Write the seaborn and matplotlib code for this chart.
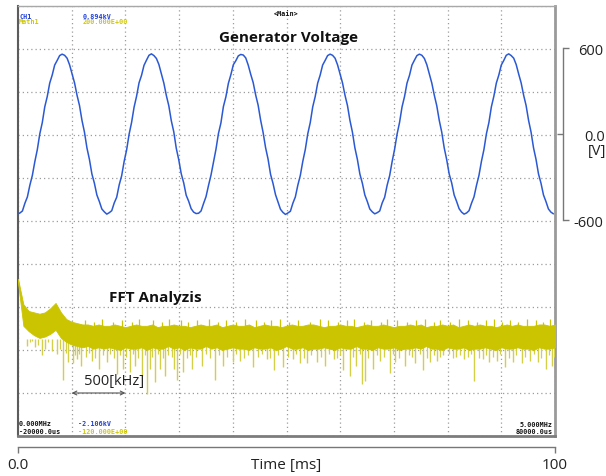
import numpy as np
import pandas as pd
import matplotlib
matplotlib.use("Agg")
import matplotlib.pyplot as plt
import seaborn as sns

# ---------------- data ----------------
# Generator voltage [V], 36 samples per 60 Hz period, starting at a trough
volt_period_1 = [-556, -550, -536, -482, -438, -356, -288, -192, -108, 2, 80, 190, 262, 356, 412, 482, 514, 548,
                 558, 550, 530, 484, 420, 358, 272, 200, 96, 14, -96, -176, -278, -342, -424, -470, -522, -542]
volt_period_2 = [-558, -548, -534, -480, -440, -354, -290, -190, -110, 0, 82, 188, 264, 358, 410, 480, 516, 550,
                 560, 548, 528, 486, 422, 356, 270, 198, 94, 16, -98, -178, -276, -340, -426, -468, -520, -544]
volt_period_3 = [-554, -552, -536, -484, -436, -358, -286, -194, -106, 4, 78, 192, 260, 354, 414, 484, 512, 546,
                 556, 552, 532, 482, 418, 360, 274, 202, 98, 12, -94, -174, -280, -344, -422, -472, -524, -546]
volt_period_4 = [-560, -550, -538, -482, -438, -356, -288, -190, -108, 2, 80, 190, 262, 356, 412, 482, 514, 548,
                 558, 550, 530, 484, 420, 358, 272, 200, 96, 14, -96, -176, -278, -342, -424, -470, -522, -542]
volt_period_5 = [-556, -548, -536, -480, -440, -356, -290, -192, -106, 0, 82, 190, 262, 356, 410, 482, 516, 548,
                 558, 550, 528, 484, 420, 356, 272, 198, 96, 14, -96, -178, -278, -340, -424, -470, -520, -544]
volt_period_6 = [-558, -550, -534, -482, -438, -358, -288, -190, -108, 2, 80, 190, 264, 356, 412, 482, 514, 550,
                 560, 548, 530, 486, 420, 358, 272, 200, 96, 14, -96, -176, -278, -342, -424, -470, -522, -544]
volt_end = [-556]
time_first_ms, time_last_ms = -0.1, 99.7

# FFT magnitude (Math1), 0 .. 5 MHz every 0.05 MHz: upper and lower edge of the dense band [dB]
fft_top_db = [-3, -22, -27, -28, -29, -28, -25, -21, -28, -33, -35, -36, -37, -37, -38, -37, -38, -38, -37, -38,
              -39, -38, -37, -38, -38, -37, -39, -38, -38, -37, -38, -38, -39, -38, -37, -38, -38, -37, -39, -38,
              -37, -38, -38, -37, -39, -38, -37, -38, -38, -39, -38, -37, -38, -38, -37, -37, -38, -39, -38, -38,
              -37, -38, -38, -39, -38, -37, -38, -38, -37, -38, -39, -38, -38, -37, -38, -37, -39, -38, -38, -37,
              -38, -37, -39, -38, -37, -38, -37, -38, -38, -39, -38, -37, -38, -37, -38, -38, -38, -37, -37, -38,
              -37]
fft_bottom_db = [-6, -38, -42, -45, -47, -46, -44, -41, -47, -50, -52, -53, -54, -53, -55, -54, -55, -54, -55, -56,
                 -54, -55, -55, -54, -56, -54, -55, -55, -53, -55, -54, -56, -54, -55, -55, -53, -55, -54, -56, -55,
                 -54, -55, -55, -56, -54, -55, -55, -54, -56, -55, -53, -55, -55, -54, -56, -55, -55, -54, -55, -56,
                 -54, -55, -55, -53, -55, -55, -56, -54, -55, -55, -54, -56, -55, -55, -54, -55, -53, -55, -55, -56,
                 -54, -55, -55, -54, -56, -55, -55, -54, -55, -56, -54, -55, -55, -54, -55, -55, -56, -54, -55, -55,
                 -54]
fft_first_mhz, fft_last_mhz = 0.0, 5.0

# long downward spikes of the FFT trace: frequency [MHz] and lowest value [dB]
spike_mhz = [0.08, 0.13, 0.16, 0.22, 0.25, 0.32, 0.36, 0.42, 0.47, 0.51, 0.55, 0.59, 0.69, 0.75, 0.83, 0.92, 0.98,
             1.04, 1.09, 1.15, 1.20, 1.23, 1.28, 1.32, 1.37, 1.45, 1.48, 1.54, 1.62, 1.71, 1.83, 1.91, 2.00, 2.07,
             2.19, 2.32, 2.38, 2.47, 2.56, 2.63, 2.69, 2.78, 2.86, 2.94, 3.03, 3.09, 3.15, 3.20, 3.23, 3.31, 3.37,
             3.46, 3.51, 3.60, 3.70, 3.77, 3.84, 3.90, 3.96, 4.08, 4.15, 4.25, 4.33, 4.39, 4.46, 4.53, 4.61, 4.69,
             4.77, 4.84, 4.92, 4.97]
spike_db = [-53, -49, -54, -60, -55, -57, -59, -78, -65, -66, -63, -68, -64, -70, -65, -74, -70,
            -72, -68, -75, -89, -70, -80, -70, -75, -70, -78, -72, -70, -68, -78, -68, -65, -64,
            -69, -63, -71, -69, -63, -66, -66, -65, -68, -63, -71, -75, -68, -81, -79, -70, -64,
            -73, -65, -68, -66, -71, -65, -64, -60, -61, -63, -79, -63, -65, -64, -69, -65, -66,
            -64, -65, -70, -68]

# short downward spikes (lower fringe of the band)
fringe_mhz = [0.11, 0.19, 0.28, 0.39, 0.45, 0.53, 0.57, 0.63, 0.66, 0.72, 0.79, 0.86, 0.89, 0.95, 1.01, 1.07,
              1.12, 1.18, 1.25, 1.30, 1.35, 1.40, 1.43, 1.51, 1.57, 1.60, 1.66, 1.75, 1.79, 1.87, 1.95, 2.03,
              2.10, 2.14, 2.23, 2.27, 2.35, 2.42, 2.51, 2.59, 2.66, 2.73, 2.82, 2.90, 2.97, 3.00, 3.12, 3.18,
              3.26, 3.34, 3.41, 3.49, 3.55, 3.64, 3.67, 3.74, 3.81, 3.87, 3.93, 4.01, 4.05, 4.12, 4.19, 4.22,
              4.29, 4.36, 4.42, 4.49, 4.57, 4.64, 4.72, 4.80, 4.87, 4.94, 4.99]
fringe_db = [-50, -52, -50, -55, -58, -60, -59, -61, -58, -62, -60, -59, -62, -60, -61, -59,
             -62, -60, -61, -59, -62, -60, -61, -59, -62, -60, -61, -59, -62, -60, -61, -59,
             -62, -60, -61, -59, -62, -60, -61, -59, -62, -60, -61, -59, -62, -60, -61, -59,
             -62, -60, -61, -59, -62, -60, -61, -59, -62, -60, -61, -59, -62, -60, -61, -59,
             -62, -60, -61, -59, -62, -60, -61, -59, -62, -60, -61]

# upward spikes (upper fringe of the band)
peak_mhz = [0.62, 0.71, 0.78, 0.88, 0.97, 1.06, 1.13, 1.26, 1.34, 1.41, 1.52, 1.58, 1.67, 1.78, 1.86, 1.94,
            2.03, 2.11, 2.22, 2.29, 2.36, 2.44, 2.52, 2.61, 2.72, 2.81, 2.89, 2.98, 3.06, 3.13, 3.22, 3.29,
            3.38, 3.44, 3.53, 3.62, 3.71, 3.79, 3.87, 3.93, 4.02, 4.11, 4.19, 4.27, 4.36, 4.43, 4.51, 4.58,
            4.66, 4.74, 4.82, 4.89, 4.95]
peak_db = [-34, -35, -33, -35, -34, -35, -33, -34, -35, -33, -34, -35, -34, -33, -35, -34,
           -35, -33, -34, -35, -34, -33, -35, -34, -35, -33, -34, -35, -34, -33, -35, -34,
           -35, -33, -34, -35, -34, -33, -35, -34, -35, -33, -34, -35, -34, -33, -35, -34,
           -35, -33, -34, -35, -33]

time_tick_values = [0, 100]
time_tick_labels = ["0.0", "100"]
volt_tick_values = [-600, 600]
volt_tick_labels = ["-600", "600"]
volt_mid_value = [0]
volt_mid_label = ["0.0"]

# ---------------- figure ----------------
sns.set_theme(style="white")
plt.rcParams["font.family"] = ["Open Sans", "DejaVu Sans"]

W, H = 606, 477
fig = plt.figure(figsize=(W / 100, H / 100), dpi=100)
fig.patch.set_facecolor("white")


def px_rect(x0, y0, x1, y1):
    return [x0 / W, 1 - y1 / H, (x1 - x0) / W, (y1 - y0) / H]


frame = px_rect(18, 7, 555, 437)

# main scope screen (voltage channel): 300 V/div, 10 ms/div
ax = fig.add_axes(frame)
ax.set_facecolor("white")
volts = volt_period_1 + volt_period_2 + volt_period_3 + volt_period_4 + volt_period_5 + volt_period_6 + volt_end
df = pd.DataFrame({"t": np.linspace(time_first_ms, time_last_ms, len(volts)), "v": volts})
sns.lineplot(data=df, x="t", y="v", ax=ax, color="#2b59d4", linewidth=1.1, estimator=None, sort=False, zorder=3)
ax.set_xlim(0, 100)
ax.set_ylim(-2106, 894)
ax.set_xticks(np.arange(0, 101, 10))
ax.set_yticks(np.arange(-2106, 895, 300))
ax.tick_params(length=0, labelbottom=False, labelleft=False)
ax.set_xlabel("")
ax.set_ylabel("")
ax.grid(True, color="#9c9c9c", linestyle=(0, (1, 2.4)), linewidth=0.9)
ax.spines["left"].set(color="#5c5c5c", linewidth=1.5)
ax.spines["bottom"].set(color="#7c7c7c", linewidth=2)
ax.spines["right"].set(color="#9a9a9a", linewidth=2)
ax.spines["top"].set(color="#a8a8a8", linewidth=1)

# FFT channel overlaid on the same screen: 0..5 MHz, -120..200 dB
ax2 = fig.add_axes(frame)
ax2.patch.set_visible(False)
ax2.set_xlim(0, 5)
ax2.set_ylim(-120, 200)
ax2.axis("off")
fft_freq = np.linspace(fft_first_mhz, fft_last_mhz, len(fft_top_db))
spike_col = "#d2cf48"
band_col = "#cac500"
ax2.vlines(spike_mhz, spike_db, -48, color=spike_col, linewidth=1.0, zorder=2)
ax2.vlines(fringe_mhz, fringe_db, -48, color=spike_col, linewidth=0.9, zorder=2)
ax2.vlines(peak_mhz, -40, peak_db, color=band_col, linewidth=0.9, zorder=2)
ax2.fill_between(fft_freq, fft_bottom_db, fft_top_db, color=band_col, linewidth=0.6,
                 edgecolor=band_col, zorder=3)
ax2.annotate("", xy=(0.5, -88), xytext=(1.0, -88),
             arrowprops=dict(arrowstyle="<->", color="#555555", lw=0.8, shrinkA=0, shrinkB=0,
                             mutation_scale=7))
ax2.text(0.894, -78.5, "500[kHz]", ha="center", va="center", fontsize=10.5, color="#222222")

# annotations on the screen
ax.text(0.503, 0.928, "Generator Voltage", transform=ax.transAxes, ha="center", va="center",
        fontsize=11, fontweight="bold", color="#111111")
ax.text(0.255, 0.323, "FFT Analyzis", transform=ax.transAxes, ha="center", va="center",
        fontsize=11, fontweight="bold", color="#111111")

mono = dict(family="DejaVu Sans Mono", fontweight="bold", fontsize=4.9, transform=ax.transAxes, va="center")
blue, yellow, black = "#2040d8", "#cfc700", "#111111"
ax.text(0.002, 0.9767, "CH1", color=blue, ha="left", **mono)
ax.text(0.002, 0.9651, "Math1", color=yellow, ha="left", **mono)
ax.text(0.1205, 0.9767, "0.894kV", color=blue, ha="left", **mono)
ax.text(0.1205, 0.9651, "200.000E+00", color=yellow, ha="left", **mono)
ax.text(0.499, 0.9826, "<Main>", color=black, ha="center", **mono)
ax.text(0.001, 0.0302, "0.000MHz", color=black, ha="left", **mono)
ax.text(0.001, 0.0105, "-20000.0us", color=black, ha="left", **mono)
ax.text(0.1117, 0.0302, "-2.106kV", color=blue, ha="left", **mono)
ax.text(0.1117, 0.0105, "-120.000E+00", color=yellow, ha="left", **mono)
ax.text(0.9963, 0.0290, "5.000MHz", color=black, ha="right", **mono)
ax.text(0.9963, 0.0105, "80000.0us", color=black, ha="right", **mono)

# right-hand voltage scale bracket
axv = fig.add_axes(px_rect(563, 7, 603, 437))
axv.patch.set_visible(False)
axv.set_ylim(-2106, 894)
axv.set_xticks([])
for s in ["top", "right", "bottom"]:
    axv.spines[s].set_visible(False)
axv.spines["left"].set(color="#777777", linewidth=1)
axv.spines["left"].set_bounds(-600, 600)
axv.set_yticks(volt_tick_values, labels=volt_tick_labels)
axv.set_yticks(volt_mid_value, labels=volt_mid_label, minor=True)
axv.tick_params(which="major", direction="in", length=4, width=1, color="#777777",
                left=True, right=False, labelleft=False, labelright=True, pad=0,
                labelsize=10.5, labelcolor="#222222")
axv.tick_params(which="minor", direction="out", length=4, width=1, color="#777777",
                left=True, right=False, labelleft=False, labelright=True, pad=-2.9,
                labelsize=10.5, labelcolor="#222222")
for lab in axv.get_yticklabels(which="both"):
    lab.set_horizontalalignment("right")
axv.yaxis.set_label_position("right")
axv.set_ylabel("[V]", rotation=0, fontsize=10.5, color="#222222", ha="right", va="center")
axv.yaxis.set_label_coords(1.07, (437 - 152) / 430)

# bottom time axis bracket
axt = fig.add_axes(px_rect(18, 438, 555, 448))
axt.patch.set_visible(False)
axt.set_xlim(0, 100)
axt.set_yticks([])
for s in ["top", "right", "left"]:
    axt.spines[s].set_visible(False)
axt.spines["bottom"].set(color="#777777", linewidth=1)
axt.set_xticks(time_tick_values, labels=time_tick_labels)
axt.tick_params(axis="x", direction="out", length=4, width=1, color="#777777", pad=3,
                labelsize=11, labelcolor="#222222", bottom=True)
axt.set_xlabel("Time [ms]", fontsize=11, color="#222222")
axt.xaxis.label.set_va("center")
axt.xaxis.set_label_coords(0.5, -1.7)

fig.savefig("out.png", dpi=100, facecolor="white")
